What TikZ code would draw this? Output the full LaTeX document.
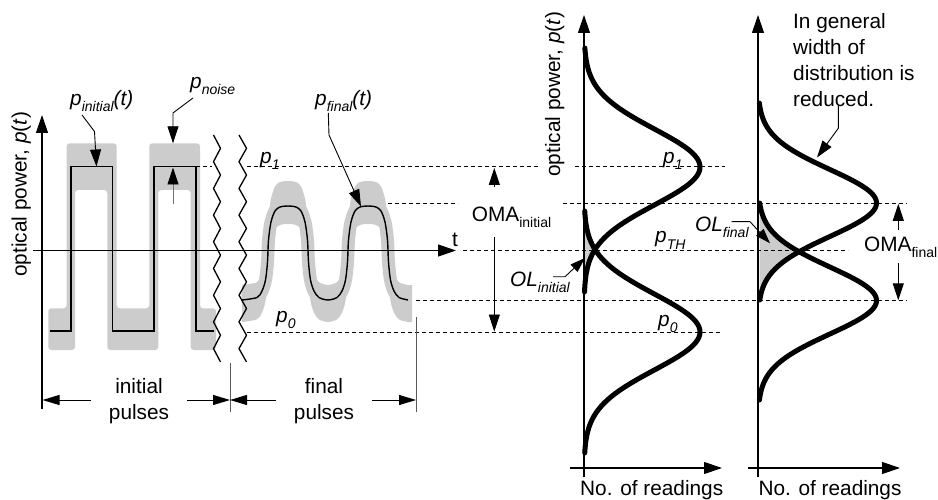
\documentclass[tikz,border=0pt]{standalone}
\usepackage{fontspec}
\setmainfont{Liberation Sans}
\usetikzlibrary{arrows.meta}
\newcommand\sbs[1]{\raisebox{-6pt}{\fontsize{14}{14}\selectfont #1}}
\begin{document}
\begin{tikzpicture}[x=1pt,y=-1pt,
  font=\fontsize{20.8}{26}\selectfont,
  noisefill/.style={fill=black!20},
  noiseline/.style={draw=black!20},
  axisline/.style={line width=1.2pt,-{Triangle[length=18pt,width=12pt]}},
  dashln/.style={line width=1pt,dash pattern=on 4pt off 3pt},
  lead/.style={line width=0.9pt,-{Triangle[length=17pt,width=11pt]}},
  dimarr/.style={line width=1pt,-{Triangle[length=17pt,width=10pt]}},
  extln/.style={line width=1pt,draw=black!65},
  dist/.style={line width=5pt,line cap=round,line join=round},
  sig/.style={line width=1.4pt,line join=miter},
  zig/.style={line width=1.3pt,line join=miter},
  lbl/.style={inner sep=0pt,anchor=base west}]
\useasboundingbox (0,0) rectangle (938,500);

% ---------- gray noise bands ----------
\fill[noisefill,rounded corners=3pt] (48.3,308.3) -- (66.7,308.3) -- (66.7,143.3) -- (116.7,143.3)
  -- (116.7,308.3) -- (149.3,308.3) -- (149.3,143.3) -- (200,143.3) -- (200,308.3) -- (216,308.3)
  -- (216,350) -- (190.7,350) -- (190.7,190) -- (158.3,190) -- (158.3,350) -- (107.3,350)
  -- (107.3,190) -- (75,190) -- (75,350) -- (48.3,350) -- cycle;

\fill[noisefill] plot[smooth,tension=0.5] coordinates {(242,285) (257,282.2) (262,275) (265.5,262.9) (267.5,243) (268.5,218.6) (271,198.7) (275,186.5) (280,182.1) (288,181) (296,182.1) (301,186.5) (305,198.7) (307.5,218.6) (308.5,243) (310.5,262.9) (314,275) (319,282.2) (328,285) (337,282.2) (342,275) (345.5,262.9) (347.5,243) (348.5,218.6) (351,198.7) (355,186.5) (360,182.1) (368,181) (376,182.1) (381,186.5) (385,198.7) (387.5,218.6) (388.5,243) (390.5,262.9) (394,275) (399,282.2) (408,285) (412,285)}
  -- plot[smooth,tension=0.5] coordinates {(412,322) (408,322) (399,319.4) (394,312.6) (390.5,301.1) (388.5,282.4) (387.5,259.4) (385,240.7) (381,229.2) (376,225) (368,224) (360,225) (355,229.2) (351,240.7) (348.5,259.4) (347.5,282.4) (345.5,301.1) (342,312.6) (337,319.4) (328,322) (319,319.4) (314,312.6) (310.5,301.1) (308.5,282.4) (307.5,259.4) (305,240.7) (301,229.2) (296,225) (288,224) (280,225) (275,229.2) (271,240.7) (268.5,259.4) (267.5,282.4) (265.5,301.1) (262,312.6) (257,319.4) (242,322)} -- cycle;
\draw[noiseline,line width=13pt] plot[smooth,tension=0.5] coordinates {(242,300) (257,297.5) (262,291) (265.5,280) (267.5,262) (268.5,240) (271,222) (275,211) (280,207) (288,206) (296,207) (301,211) (305,222) (307.5,240) (308.5,262) (310.5,280) (314,291) (319,297.5) (328,300) (337,297.5) (342,291) (345.5,280) (347.5,262) (348.5,240) (351,222) (355,211) (360,207) (368,206) (376,207) (381,211) (385,222) (387.5,240) (388.5,262) (390.5,280) (394,291) (399,297.5) (408,300)};

% overlap areas
\fill[noisefill] plot[domain=211:292,samples=60,variable=\t]
  ({584+min(116*exp(-0.5*((\t-167)/38)*((\t-167)/38)),116*exp(-0.5*((\t-332)/38)*((\t-332)/38)))},\t) -- cycle;
\fill[noisefill] plot[domain=203:300.5,samples=60,variable=\t]
  ({758+min(118.5*exp(-0.5*((\t-203)/33.5)*((\t-203)/33.5)),118.5*exp(-0.5*((\t-300.5)/33.5)*((\t-300.5)/33.5)))},\t) -- cycle;

% ---------- dashed level lines ----------
\draw[dashln] (196,167) -- (212,167);
\draw[dashln] (247,167) -- (540,167);
\draw[dashln] (575,167) -- (725,167);
\draw[dashln] (388,203.3) -- (458,203.3);
\draw[dashln] (563,203.3) -- (907,203.3);
\draw[dashln] (463,250.5) -- (848,250.5);
\draw[dashln] (416,300.7) -- (907,300.7);
\draw[dashln] (247,332) -- (720,332);

% ---------- axes ----------
\draw[axisline] (42,409) -- (42,115);
\draw[axisline] (33,250.5) -- (456,250.5);
\draw[axisline] (584,477) -- (584,15);
\draw[axisline] (570,468) -- (722,468);
\draw[axisline] (758,477) -- (758,15);
\draw[axisline] (748,468) -- (900,468);

% ---------- signals ----------
\draw[sig] (50,331) -- (71,331) -- (71,166.7) -- (112.7,166.7) -- (112.7,331) -- (154,331)
  -- (154,166.7) -- (196,166.7) -- (196,331) -- (214,331);
\draw[sig] plot[smooth,tension=0.5] coordinates {(242,300) (257,297.5) (262,291) (265.5,280) (267.5,262) (268.5,240) (271,222) (275,211) (280,207) (288,206) (296,207) (301,211) (305,222) (307.5,240) (308.5,262) (310.5,280) (314,291) (319,297.5) (328,300) (337,297.5) (342,291) (345.5,280) (347.5,262) (348.5,240) (351,222) (355,211) (360,207) (368,206) (376,207) (381,211) (385,222) (387.5,240) (388.5,262) (390.5,280) (394,291) (399,297.5) (408,300)};

% ---------- break marks ----------
\draw[zig] (213.5,135) \foreach \i in {1,...,17}{ -- ({213.5+7*mod(\i,2)},{135+13.35*\i}) };
\draw[zig] (239,135) \foreach \i in {1,...,17}{ -- ({239+7.5*mod(\i,2)},{135+13.35*\i}) };

% ---------- distributions ----------
\draw[dist] plot[domain=48:292,samples=120,variable=\t] ({584+116*exp(-0.5*((\t-167)/38)*((\t-167)/38))},\t);
\draw[dist] plot[domain=211:453,samples=120,variable=\t] ({584+116*exp(-0.5*((\t-332)/38)*((\t-332)/38))},\t);
\draw[dist] plot[domain=103:300,samples=120,variable=\t] ({758+118.5*exp(-0.5*((\t-203)/33.5)*((\t-203)/33.5))},\t);
\draw[dist] plot[domain=203:400,samples=120,variable=\t] ({758+118.5*exp(-0.5*((\t-300.5)/33.5)*((\t-300.5)/33.5))},\t);

% ---------- labels ----------
\node[lbl,rotate=90] (ylab1) at (26.7,277) {optical power, \textit{p}(\textit{t})};
\node[lbl,rotate=90] (ylab2) at (560,177) {optical power, \textit{p}(\textit{t})};
\node[lbl] (pinit) at (70,106) {\itshape p\sbs{initial}(t)};
\node[lbl] (pnoise) at (190,89) {\itshape p\sbs{noise}};
\node[lbl] (pfinal) at (315,106) {\itshape p\sbs{final}(t)};
\node[lbl] (p1a) at (260,164) {\itshape p\sbs{1}};
\node[lbl] (p0a) at (276,322.5) {\itshape p\sbs{0}};
\node[lbl] (tlab) at (452,247) {t};
\node[lbl] (omai) at (471.7,221.7) {OMA\sbs{initial}};
\node[lbl] (oli) at (510,286.7) {\itshape OL\sbs{initial}};
\node[lbl] (p1b) at (663,164) {\itshape p\sbs{1}};
\node[lbl] (pth) at (655,243) {\itshape p\sbs{TH}};
\node[lbl] (p0b) at (658,326) {\itshape p\sbs{0}};
\node[lbl] (olf) at (695,231.7) {\itshape OL\sbs{final}};
\node[lbl] (omaf) at (864,251.7) {OMA\sbs{final}};
\node[inner sep=0pt,anchor=north west,align=left] (gen) at (793,13.6)
  {In general\\width of\\distribution is\\reduced.};
\node[lbl] (nr1) at (580,495) {No. of readings};
\node[lbl] (nr2) at (758.3,495) {No. of readings};
\node[inner sep=0pt,anchor=north,align=center] (ipul) at (139,378.4) {initial\\pulses};
\node[inner sep=0pt,anchor=north,align=center] (fpul) at (324,378.4) {final\\pulses};

% ---------- leaders ----------
\coordinate (pinitS) at (82,115);
\coordinate (pinitT) at (96.5,166.5);
\draw[lead] (pinitS) -- (94.5,131.5) -- (pinitT);
\coordinate (pnoiseS) at (193,98);
\coordinate (pnoiseT) at (173,143.3);
\draw[lead] (pnoiseS) -- (173,113) -- (pnoiseT);
\coordinate (pnB) at (173,204);
\coordinate (pnT) at (173,167.5);
\draw[line width=0.9pt,draw=black!55,-{Triangle[length=17pt,width=11pt,color=black]}] (pnB) -- (pnT);
\coordinate (pfinalS) at (328.3,113);
\coordinate (pfinalT) at (361,206.5);
\draw[lead] (pfinalS) -- (329,135) -- (pfinalT);
\coordinate (oliS) at (553,276.7);
\coordinate (oliT) at (585,258);
\draw[lead,-{Triangle[length=15pt,width=10pt]}] (oliS) -- (565,276.7) -- (oliT);
\coordinate (olfS) at (731.7,221.7);
\coordinate (olfT) at (770,243.3);
\draw[lead,-{Triangle[length=15pt,width=10pt]}] (olfS) -- (750,221.7) -- (olfT);
\coordinate (genS) at (838.3,106);
\coordinate (genT) at (817,157.5);
\draw[lead] (genS) -- (838.3,128.3) -- (genT);

% OMA arrows
\coordinate (omaiU) at (494.3,186.7);
\coordinate (omaiUT) at (494.3,168);
\coordinate (omaiD) at (494.3,236.7);
\coordinate (omaiDT) at (494.3,331.5);
\draw[lead] (omaiU) -- (omaiUT);
\draw[lead] (omaiD) -- (omaiDT);
\coordinate (omafU) at (898.3,230);
\coordinate (omafUT) at (898.3,203.8);
\coordinate (omafD) at (898.3,263);
\coordinate (omafDT) at (898.3,300.3);
\draw[lead] (omafU) -- (omafUT);
\draw[lead] (omafD) -- (omafDT);

% ---------- dimension lines ----------
\draw[extln] (230,363) -- (230,412);
\draw[extln] (416,317) -- (416,412);
\draw[dimarr] (91,400) -- (42.5,400);
\draw[dimarr] (187,400) -- (230,400);
\draw[dimarr] (276,400) -- (230,400);
\draw[dimarr] (372,400) -- (416,400);
\end{tikzpicture}
\end{document}
